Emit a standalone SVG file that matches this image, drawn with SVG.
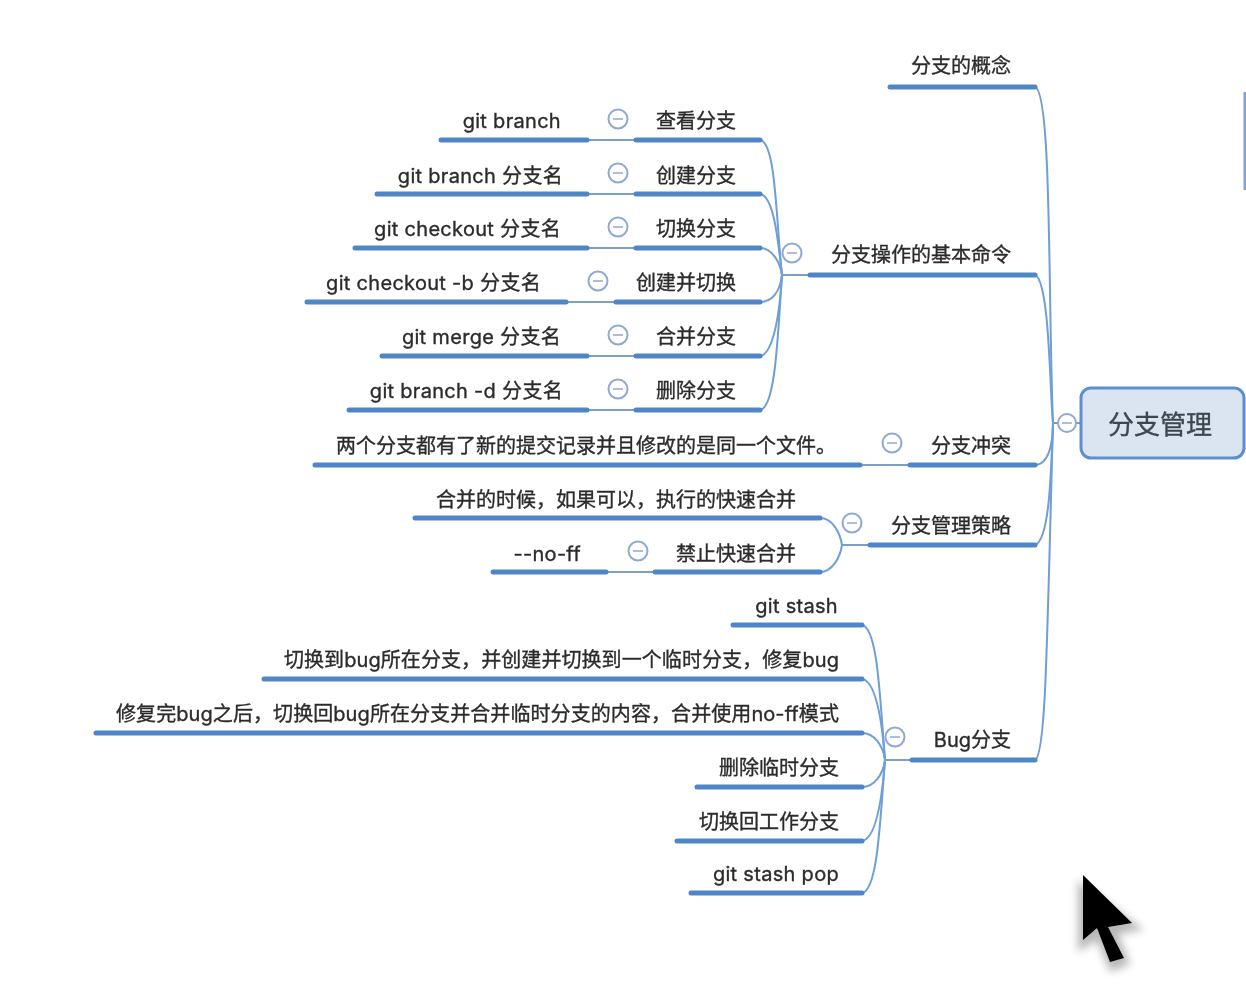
<svg xmlns="http://www.w3.org/2000/svg" width="1246" height="1004" viewBox="0 0 1246 1004">
<defs>
<filter id="soft" x="-5%" y="-5%" width="110%" height="110%"><feGaussianBlur stdDeviation="0.6"/></filter>
<filter id="shadow" x="-50%" y="-50%" width="200%" height="200%"><feGaussianBlur stdDeviation="4"/></filter>
<filter id="tipblur" x="-10%" y="-10%" width="120%" height="120%"><feGaussianBlur stdDeviation="0.7"/></filter>
</defs>
<style>
text{font-family:Inter,"Noto Sans CJK SC",sans-serif;font-size:20px;fill:#2c2c2c;stroke:#2c2c2c;stroke-width:.35px;text-anchor:end}
.lat{letter-spacing:.3px}
.mix{letter-spacing:.08px}
.bar{stroke:#4f86c8;stroke-width:5;stroke-linecap:round;fill:none}
.link{stroke:#6f9ed6;stroke-width:2;fill:none}
.thin{stroke:#7ba0c4;stroke-width:2;fill:none}
.fold{fill:#fff;stroke:#8fa9d4;stroke-width:2}
.minus{stroke:#8fa9d4;stroke-width:1.500}
</style>
<rect width="1246" height="1004" fill="#fff"/>
<g filter="url(#soft)">
<g id="connectors">
<path class="link" d="M1035 87C1052 92 1048 300 1053 423"/>
<path class="link" d="M1035 275C1050 280 1050 400 1053 423"/>
<path class="link" d="M1035 465C1048 465 1053 445 1053 423"/>
<path class="link" d="M1035 545C1050 540 1051 470 1053 423"/>
<path class="link" d="M1035 760C1046 756 1047 640 1053 423"/>
<path class="link" d="M1053 423H1081"/>
<path class="thin" d="M782 275H808"/>
<path class="link" d="M760 140C776 142 776 220 782 275"/>
<path class="link" d="M760 194C774 196 778 240 782 275"/>
<path class="link" d="M760 248C772 248 780 262 782 275"/>
<path class="link" d="M760 302C772 302 780 292 782 275"/>
<path class="link" d="M760 356C774 354 780 310 782 275"/>
<path class="link" d="M760 410C776 408 778 330 782 275"/>
<path class="thin" d="M587 140H634M587 194H634M587 248H634M566 302H614M587 356H634M587 410H634M860 465H908M606 572H654"/>
<path class="thin" d="M842 545H868"/>
<path class="link" d="M820 518C832 518 840 532 842 545"/>
<path class="link" d="M820 572C832 572 840 558 842 545"/>
<path class="thin" d="M885 760H910"/>
<path class="link" d="M862 625C878 628 880 700 885 760"/>
<path class="link" d="M862 679C876 681 882 720 885 760"/>
<path class="link" d="M862 733C874 733 883 745 885 760"/>
<path class="link" d="M862 787C874 787 883 775 885 760"/>
<path class="link" d="M862 841C876 839 882 800 885 760"/>
<path class="link" d="M862 893C878 890 880 820 885 760"/>
</g>
<g id="root">
<rect x="1081" y="388" width="163" height="70" rx="10" fill="#dbe5f1" stroke="#5b8fcf" stroke-width="3"/>
<text x="1212" y="434" style="font-size:26px;fill:#3d4650;stroke:#3d4650">分支管理</text>
<circle class="fold" cx="1067" cy="423" r="9"/><path class="minus" d="M1062 423H1072"/>
</g>
<g id="edge"><path d="M1245 92V190" stroke="#7aa5dc" stroke-width="3"/></g>
<g id="concept"><path class="bar" d="M890 87H1035"/><text x="1011" y="73">分支的概念</text></g>
<g id="ops"><path class="bar" d="M810 275H1035"/><text x="1011" y="262">分支操作的基本命令</text><circle class="fold" cx="792" cy="253" r="9.500"/><path class="minus" d="M787 253H797"/></g>
<g id="conflict"><path class="bar" d="M910 465H1035"/><text x="1011" y="453">分支冲突</text><circle class="fold" cx="892" cy="443" r="9.500"/><path class="minus" d="M887 443H897"/></g>
<g id="strategy"><path class="bar" d="M870 545H1035"/><text x="1011" y="533">分支管理策略</text><circle class="fold" cx="852" cy="523" r="9.500"/><path class="minus" d="M847 523H857"/></g>
<g id="bug"><path class="bar" d="M912 760H1035"/><text x="1011" y="747">Bug分支</text><circle class="fold" cx="895" cy="737" r="9.500"/><path class="minus" d="M890 737H900"/></g>
<g id="view"><path class="bar" d="M636 140H760"/><text x="736" y="128">查看分支</text><circle class="fold" cx="618" cy="119" r="9.500"/><path class="minus" d="M613 119H623"/></g>
<g id="create"><path class="bar" d="M636 194H760"/><text x="736" y="183">创建分支</text><circle class="fold" cx="618" cy="173" r="9.500"/><path class="minus" d="M613 173H623"/></g>
<g id="switch"><path class="bar" d="M636 248H760"/><text x="736" y="236">切换分支</text><circle class="fold" cx="618" cy="227" r="9.500"/><path class="minus" d="M613 227H623"/></g>
<g id="createswitch"><path class="bar" d="M616 302H760"/><text x="736" y="290">创建并切换</text><circle class="fold" cx="598" cy="281" r="9.500"/><path class="minus" d="M593 281H603"/></g>
<g id="merge"><path class="bar" d="M636 356H760"/><text x="736" y="344">合并分支</text><circle class="fold" cx="618" cy="335" r="9.500"/><path class="minus" d="M613 335H623"/></g>
<g id="delete"><path class="bar" d="M636 410H760"/><text x="736" y="398">删除分支</text><circle class="fold" cx="618" cy="389" r="9.500"/><path class="minus" d="M613 389H623"/></g>
<g id="cmd1"><path class="bar" d="M441 140H587"/><text class="lat" x="561" y="128">git branch</text></g>
<g id="cmd2"><path class="bar" d="M377 194H587"/><text class="lat" x="563" y="183">git branch 分支名</text></g>
<g id="cmd3"><path class="bar" d="M355 248H587"/><text class="lat" x="561" y="236">git checkout 分支名</text></g>
<g id="cmd4"><path class="bar" d="M307 302H566"/><text class="lat" x="541" y="290">git checkout -b 分支名</text></g>
<g id="cmd5"><path class="bar" d="M382 356H587"/><text class="lat" x="561" y="344">git merge 分支名</text></g>
<g id="cmd6"><path class="bar" d="M349 410H587"/><text class="lat" x="563" y="398">git branch -d 分支名</text></g>
<g id="conflict-note"><path class="bar" d="M315 465H860"/><text x="836" y="453">两个分支都有了新的提交记录并且修改的是同一个文件。</text></g>
<g id="ff"><path class="bar" d="M415 518H820"/><text x="796" y="507">合并的时候，如果可以，执行的快速合并</text></g>
<g id="noff"><path class="bar" d="M655 572H820"/><text x="796" y="561">禁止快速合并</text><circle class="fold" cx="638" cy="551" r="9.500"/><path class="minus" d="M633 551H643"/></g>
<g id="noff-opt"><path class="bar" d="M493 572H606"/><text class="lat" x="581" y="561">--no-ff</text></g>
<g id="b1"><path class="bar" d="M733 625H862"/><text class="lat" x="838" y="613">git stash</text></g>
<g id="b2"><path class="bar" d="M264 679H862"/><text class="mix" x="839" y="667">切换到bug所在分支，并创建并切换到一个临时分支，修复bug</text></g>
<g id="b3"><path class="bar" d="M96 733H862"/><text class="mix" x="839" y="721">修复完bug之后，切换回bug所在分支并合并临时分支的内容，合并使用no-ff模式</text></g>
<g id="b4"><path class="bar" d="M697 787H862"/><text x="839" y="775">删除临时分支</text></g>
<g id="b5"><path class="bar" d="M677 841H862"/><text x="839" y="829">切换回工作分支</text></g>
<g id="b6"><path class="bar" d="M691 893H862"/><text class="lat" x="839" y="881">git stash pop</text></g>
</g>
<g id="pointer">
<path d="M1078 880L1078 952L1097 940L1110 972L1130 964L1118 934L1144 930Z" fill="#000" opacity="0.28" filter="url(#shadow)"/>
<path d="M1083 875L1132 923L1108 927L1124 958L1110 962L1097 928L1083 940Z" fill="#000" filter="url(#tipblur)"/>
</g>
</svg>
